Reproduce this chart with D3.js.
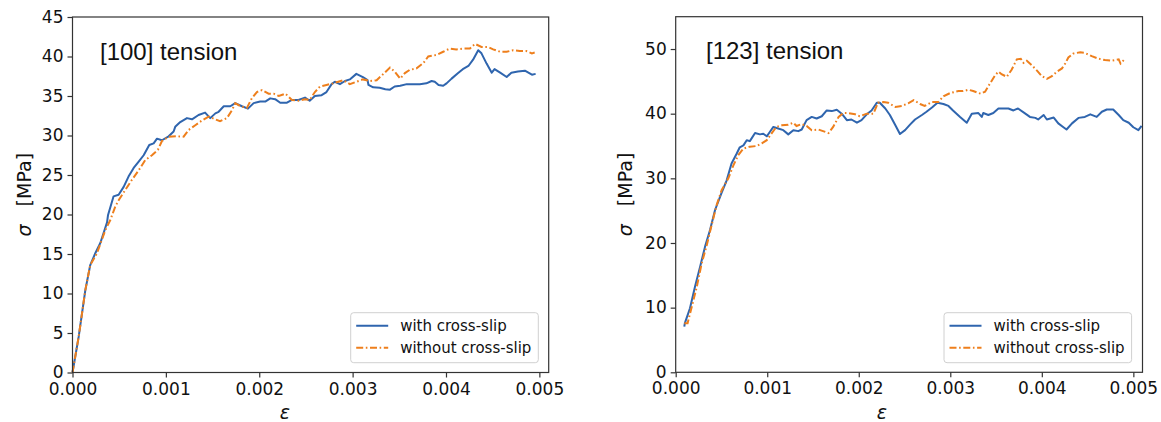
<!DOCTYPE html>
<html>
<head>
<meta charset="utf-8">
<script src="https://cdn.jsdelivr.net/npm/d3@7"></script>
<style>
  body { margin: 0; background: #fff; }
  svg { display: block; }
  .tick text { font-family: "DejaVu Sans", sans-serif; fill: #111; }
</style>
</head>
<body>
<script>
// strain values are in units of 1e-3, stress in MPa
const with100 = [[0,0],[0.066,4.5],[0.137,10.4],[0.19,13.6],[0.244,15.1],[0.298,16.4],[0.351,18.3],[0.37,19.0],[0.38,19.9],[0.44,22.3],[0.494,22.5],[0.548,23.5],[0.60,24.8],[0.655,25.9],[0.709,26.7],[0.762,27.5],[0.822,28.8],[0.869,29.0],[0.905,29.6],[0.958,29.4],[1.03,29.9],[1.083,30.5],[1.10,31.1],[1.154,31.7],[1.226,32.2],[1.28,32.05],[1.35,32.6],[1.42,32.9],[1.475,32.2],[1.53,32.8],[1.565,33.0],[1.62,33.7],[1.69,33.7],[1.743,34.1],[1.815,33.7],[1.879,33.4],[1.94,34.1],[2.01,34.3],[2.064,34.3],[2.118,34.7],[2.17,34.6],[2.225,34.15],[2.297,34.15],[2.35,34.5],[2.42,34.5],[2.49,34.8],[2.54,34.4],[2.596,35.0],[2.668,35.1],[2.72,35.5],[2.775,36.5],[2.81,36.8],[2.864,36.5],[2.918,36.9],[2.97,37.1],[3.04,37.8],[3.11,37.4],[3.16,37.0],[3.17,36.4],[3.22,36.1],[3.29,36.05],[3.35,35.85],[3.40,35.8],[3.45,36.2],[3.51,36.3],[3.58,36.5],[3.65,36.5],[3.72,36.5],[3.79,36.6],[3.846,36.9],[3.88,36.8],[3.92,36.4],[3.97,36.3],[4.006,36.6],[4.06,37.2],[4.13,37.9],[4.18,38.4],[4.24,38.8],[4.29,39.6],[4.345,40.8],[4.38,40.4],[4.435,39.1],[4.49,37.95],[4.52,38.4],[4.58,37.95],[4.65,37.4],[4.70,37.95],[4.77,38.1],[4.845,38.2],[4.92,37.7],[4.96,37.8]];

const without100 = [[0,0],[0.066,4.5],[0.137,10.4],[0.19,13.6],[0.262,15.1],[0.351,18.0],[0.405,19.3],[0.458,21.0],[0.494,21.8],[0.565,23.1],[0.637,24.4],[0.709,25.6],[0.78,26.9],[0.851,27.5],[0.915,28.2],[0.958,29.3],[1.03,29.85],[1.119,29.9],[1.19,29.85],[1.244,30.7],[1.315,31.3],[1.386,31.9],[1.458,32.4],[1.53,32.05],[1.58,31.8],[1.654,32.2],[1.708,33.2],[1.743,34.1],[1.797,33.7],[1.868,33.5],[1.92,34.7],[1.975,35.5],[2.03,35.75],[2.10,35.3],[2.154,35.3],[2.21,35.0],[2.28,35.3],[2.35,34.5],[2.42,34.4],[2.49,34.6],[2.54,34.5],[2.596,35.5],[2.65,36.2],[2.72,36.4],[2.79,36.6],[2.90,37.0],[2.97,36.5],[3.04,36.8],[3.11,37.1],[3.185,36.9],[3.257,37.0],[3.33,37.8],[3.40,38.6],[3.45,38.1],[3.51,37.2],[3.56,37.9],[3.61,38.3],[3.685,38.5],[3.76,39.2],[3.81,40.0],[3.90,40.2],[3.97,40.6],[4.04,41.0],[4.11,40.9],[4.18,41.0],[4.256,41.0],[4.31,41.6],[4.38,41.2],[4.45,41.2],[4.505,40.9],[4.58,40.6],[4.65,40.6],[4.72,40.8],[4.79,40.7],[4.86,40.7],[4.92,40.4],[4.95,40.5]];

const with123 = [[0.094,7.05],[0.10,7.6],[0.156,9.9],[0.21,13.2],[0.266,16.3],[0.32,19.4],[0.375,22.0],[0.43,25.1],[0.50,27.7],[0.557,29.7],[0.61,32.3],[0.667,33.85],[0.70,34.8],[0.74,35.1],[0.776,35.9],[0.81,35.75],[0.867,37.0],[0.92,36.8],[0.957,36.9],[0.995,36.5],[1.03,37.2],[1.067,37.95],[1.12,37.7],[1.176,37.45],[1.23,36.8],[1.285,37.45],[1.34,37.3],[1.377,37.55],[1.43,39.0],[1.486,39.5],[1.54,39.25],[1.596,39.6],[1.65,40.5],[1.705,40.4],[1.76,40.6],[1.814,40.0],[1.87,39.0],[1.92,39.1],[1.98,38.6],[2.03,39.0],[2.087,39.9],[2.14,40.5],[2.197,41.7],[2.23,41.7],[2.29,40.8],[2.34,39.8],[2.40,38.2],[2.45,36.85],[2.506,37.45],[2.56,38.3],[2.615,39.1],[2.69,39.8],[2.74,40.3],[2.80,40.95],[2.86,41.7],[2.925,41.5],[2.98,41.2],[3.03,40.5],[3.107,39.5],[3.18,38.6],[3.235,40.0],[3.307,40.1],[3.344,39.5],[3.36,40.1],[3.416,39.8],[3.47,40.1],[3.526,40.8],[3.58,40.8],[3.635,40.8],[3.69,40.5],[3.74,40.8],[3.82,40.0],[3.87,39.5],[3.93,39.35],[3.96,39.1],[4.02,39.8],[4.055,39.1],[4.13,39.4],[4.18,38.5],[4.236,37.9],[4.27,37.55],[4.33,38.5],[4.40,39.35],[4.47,39.5],[4.53,39.9],[4.60,39.5],[4.656,40.3],[4.71,40.65],[4.78,40.65],[4.84,39.8],[4.89,39.0],[4.95,38.6],[5.0,37.9],[5.055,37.45],[5.09,38.1]];

const without123 = [[0.094,7.6],[0.13,7.6],[0.175,10.1],[0.23,13.2],[0.284,16.85],[0.34,19.7],[0.393,22.8],[0.448,25.9],[0.503,28.2],[0.575,30.0],[0.63,32.0],[0.684,33.6],[0.74,34.6],[0.81,34.9],[0.885,35.0],[0.94,35.4],[0.995,35.9],[1.05,37.0],[1.10,37.95],[1.16,38.2],[1.23,38.3],[1.285,38.6],[1.32,38.1],[1.377,38.4],[1.43,38.1],[1.486,37.45],[1.56,37.55],[1.61,37.3],[1.67,37.0],[1.72,37.95],[1.78,39.5],[1.83,40.1],[1.886,40.1],[1.96,39.9],[2.01,39.6],[2.087,40.0],[2.16,40.0],[2.21,41.7],[2.27,41.8],[2.32,41.7],[2.40,41.05],[2.47,41.2],[2.54,41.6],[2.60,42.1],[2.67,41.5],[2.72,41.2],[2.80,41.8],[2.87,41.8],[2.925,42.7],[3.0,43.2],[3.09,43.5],[3.14,43.5],[3.20,43.7],[3.25,43.5],[3.33,43.1],[3.38,43.4],[3.435,44.7],[3.49,45.95],[3.526,46.5],[3.56,46.1],[3.617,45.7],[3.67,46.8],[3.727,48.4],[3.77,48.5],[3.80,47.85],[3.836,48.2],[3.89,47.5],[3.945,46.7],[4.0,45.8],[4.055,45.4],[4.11,45.8],[4.164,46.5],[4.22,47.0],[4.255,47.75],[4.29,48.7],[4.345,49.3],[4.42,49.5],[4.47,49.4],[4.546,48.9],[4.62,48.5],[4.69,48.3],[4.765,48.2],[4.84,48.4],[4.86,47.75],[4.91,48.5]];

const xTicks = [0, 1, 2, 3, 4, 5];
const yTicks100 = [0, 5, 10, 15, 20, 25, 30, 35, 40, 45];
const yTicks123 = [0, 10, 20, 30, 40, 50];
const seriesNames = ['with cross-slip', 'without cross-slip'];
const titles = ['[100] tension', '[123] tension'];

const width = 1161;
const height = 422;
const blue = '#2f65ae';
const orange = '#ee7f1c';
const dashDot = '7,2.6,1.6,2.6';

let svg = d3.select('body')
    .append('svg')
    .attr('width', width)
    .attr('height', height);

function drawPanel(p) {
    let x = d3.scaleLinear().domain([0, 5.1]).range([p.left, p.right]);
    let y = d3.scaleLinear().domain([0, p.yMax]).range([p.bottom, p.top]);

    let g = svg.append('g');

    let xAxis = d3.axisBottom(x)
        .tickValues(xTicks)
        .tickSize(5)
        .tickPadding(5)
        .tickFormat(d => d3.format('.3f')(d / 1000));
    let yAxis = d3.axisLeft(y)
        .tickValues(p.yTicks)
        .tickSize(5)
        .tickPadding(4);

    let xg = g.append('g')
        .attr('transform', `translate(0,${p.bottom})`)
        .call(xAxis);
    let yg = g.append('g')
        .attr('transform', `translate(${p.left},0)`)
        .call(yAxis);
    [xg, yg].forEach(a => {
        a.select('.domain').remove();
        a.selectAll('.tick line').attr('stroke', '#333').attr('stroke-width', 1.2);
        a.selectAll('.tick text').style('font-size', '17px');
    });
    // keep the "0" label from touching the x tick labels
    yg.selectAll('.tick text').attr('dy', '0.3em');

    let line = d3.line()
        .x(d => x(d[0]))
        .y(d => y(d[1]));

    g.append('path')
        .datum(p.withData)
        .attr('d', line)
        .attr('fill', 'none')
        .attr('stroke', blue)
        .attr('stroke-width', 2)
        .attr('stroke-linejoin', 'round');

    g.append('path')
        .datum(p.withoutData)
        .attr('d', line)
        .attr('fill', 'none')
        .attr('stroke', orange)
        .attr('stroke-width', 2)
        .attr('stroke-dasharray', dashDot);

    // frame
    g.append('rect')
        .attr('x', p.left)
        .attr('y', p.top)
        .attr('width', p.right - p.left)
        .attr('height', p.bottom - p.top)
        .attr('fill', 'none')
        .attr('stroke', '#333')
        .attr('stroke-width', 1.2);

    g.append('text')
        .attr('x', p.titleX)
        .attr('y', p.titleY)
        .style('font-family', '"Liberation Sans", Arial, sans-serif')
        .style('font-size', '24px')
        .attr('fill', '#111')
        .text(p.title);

    // y label
    let yl = g.append('text')
        .attr('transform', `translate(${p.yLabelX},${(p.top + p.bottom) / 2}) rotate(-90)`)
        .attr('text-anchor', 'middle')
        .style('font-family', '"DejaVu Sans", sans-serif')
        .style('font-size', '19px')
        .attr('fill', '#111');
    yl.append('tspan').style('font-style', 'italic').text('σ');
    yl.append('tspan').text('\u00a0\u00a0\u00a0[MPa]');

    g.append('text')
        .attr('x', p.xLabelX)
        .attr('y', 419)
        .attr('text-anchor', 'middle')
        .style('font-family', '"DejaVu Sans", sans-serif')
        .style('font-size', '19px')
        .style('font-style', 'italic')
        .attr('fill', '#111')
        .text('ε');

    // legend
    let lg = g.append('g');
    lg.append('rect')
        .attr('x', p.legX)
        .attr('y', 312.7)
        .attr('width', 187.6)
        .attr('height', 50)
        .attr('rx', 3)
        .attr('fill', 'rgba(255,255,255,0.85)')
        .attr('stroke', '#d0d0d0')
        .attr('stroke-width', 1);
    let rows = [
        { name: seriesNames[0], color: blue, dash: null, yy: 325.7 },
        { name: seriesNames[1], color: orange, dash: dashDot, yy: 347.7 }
    ];
    rows.forEach(r => {
        lg.append('line')
            .attr('x1', p.legX + 5.5)
            .attr('x2', p.legX + 37.5)
            .attr('y1', r.yy)
            .attr('y2', r.yy)
            .attr('stroke', r.color)
            .attr('stroke-width', 2)
            .attr('stroke-dasharray', r.dash);
        lg.append('text')
            .attr('x', p.legX + 49.5)
            .attr('y', r.yy)
            .attr('dy', '0.35em')
            .style('font-family', '"DejaVu Sans", sans-serif')
            .style('font-size', '15px')
            .attr('fill', '#111')
            .text(r.name);
    });
}

drawPanel({
    left: 72.5, right: 548.7, top: 17, bottom: 372.5,
    yMax: 45, yTicks: yTicks100,
    withData: with100, withoutData: without100,
    title: titles[0], titleX: 100, titleY: 60,
    yLabelX: 31, xLabelX: 285, legX: 350.7
});

drawPanel({
    left: 675.7, right: 1142.5, top: 16.7, bottom: 372.3,
    yMax: 55, yTicks: yTicks123,
    withData: with123, withoutData: without123,
    title: titles[1], titleX: 706, titleY: 58.5,
    yLabelX: 632, xLabelX: 882, legX: 944
});
</script>
</body>
</html>
